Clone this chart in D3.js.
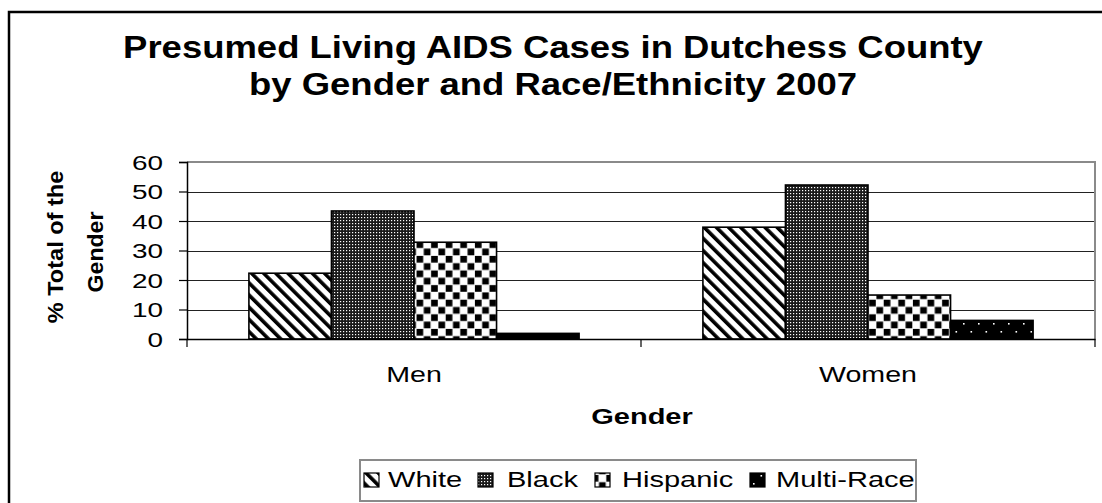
<!DOCTYPE html>
<html>
<head>
<meta charset="utf-8">
<script src="https://cdn.jsdelivr.net/npm/d3@7"></script>
<style>
  html, body { margin: 0; padding: 0; background: #fff; }
  svg { display: block; }
</style>
</head>
<body>
<svg id="chart" width="1102" height="503"></svg>
<script>
// ---- data ----
const categories = ["Men", "Women"];
const series = ["White", "Black", "Hispanic", "Multi-Race"];
const valuesWhite = [22.3, 37.9];
const valuesBlack = [43.4, 52.2];
const valuesHispanic = [32.8, 14.9];
const valuesMulti = [1.9, 6.3];
const yTicks = [0, 10, 20, 30, 40, 50, 60];
const titleLines = ["Presumed Living AIDS Cases in Dutchess County", "by Gender and Race/Ethnicity 2007"];
const yTitleLines = ["% Total of the", "Gender"];
const xTitle = "Gender";

const seriesValues = [valuesWhite, valuesBlack, valuesHispanic, valuesMulti];

// ---- layout ----
const FONT = "'Liberation Sans', Arial, Helvetica, sans-serif";
const plot = { left: 187, right: 1095, top: 162, bottom: 339 };
const svg = d3.select("#chart");

function txt(parent, s, x, y, o) {
  const g = parent.append("g")
    .attr("transform", `translate(${x},${y}) rotate(${o.rot || 0}) scale(${o.sx || 1},${o.sy || 1})`);
  g.append("text")
    .attr("text-anchor", o.anchor || "start")
    .attr("font-family", FONT)
    .attr("font-size", o.size)
    .attr("font-weight", o.weight || "normal")
    .attr("fill", "#000")
    .text(s);
  return g;
}

// ---- patterns ----
const defs = svg.append("defs");
// White: wide downward diagonal stripes (top-left to bottom-right)
const pW = defs.append("pattern").attr("id", "pat0").attr("patternUnits", "userSpaceOnUse")
  .attr("width", 8.6).attr("height", 8.6).attr("patternTransform", "rotate(-45)");
pW.append("rect").attr("width", 8.6).attr("height", 8.6).attr("fill", "#fff");
pW.append("rect").attr("x", 0).attr("width", 3.6).attr("height", 8.6).attr("fill", "#000");
// Black: dense dark grid with white dots
const pB = defs.append("pattern").attr("id", "pat1").attr("patternUnits", "userSpaceOnUse")
  .attr("width", 3).attr("height", 3);
pB.append("rect").attr("width", 3).attr("height", 3).attr("fill", "#1a1a1a");
pB.append("rect").attr("x", 1).attr("y", 1).attr("width", 1.2).attr("height", 1.2).attr("fill", "#fff");
// Hispanic: checkerboard
const c = 7.3;
const pH = defs.append("pattern").attr("id", "pat2").attr("patternUnits", "userSpaceOnUse")
  .attr("width", 2 * c).attr("height", 2 * c);
pH.append("rect").attr("width", 2 * c).attr("height", 2 * c).attr("fill", "#fff");
pH.append("rect").attr("x", 0.4).attr("y", 0.4).attr("width", c - 0.6).attr("height", c - 0.6).attr("fill", "#000");
pH.append("rect").attr("x", c + 0.4).attr("y", c + 0.4).attr("width", c - 0.6).attr("height", c - 0.6).attr("fill", "#000");
// Multi-Race: black with sparse white dots
const pM = defs.append("pattern").attr("id", "pat3").attr("patternUnits", "userSpaceOnUse")
  .attr("width", 15).attr("height", 16);
pM.append("rect").attr("width", 15).attr("height", 16).attr("fill", "#000");
pM.append("rect").attr("x", 3).attr("y", 3).attr("width", 1.6).attr("height", 1.6).attr("fill", "#fff");
pM.append("rect").attr("x", 10.5).attr("y", 11).attr("width", 1.6).attr("height", 1.6).attr("fill", "#fff");

// ---- outer frame ----
svg.append("path").attr("d", "M9,503 V12 H1102").attr("fill", "none").attr("stroke", "#000").attr("stroke-width", 2.5);

// ---- title ----
titleLines.forEach((t, i) => {
  txt(svg, t, 553, 58 + i * 37, { size: 32, weight: "bold", anchor: "middle", sx: 1.14 });
});

// ---- scales ----
const y = d3.scaleLinear().domain([0, 60]).range([plot.bottom, plot.top]);
const x0 = d3.scaleBand().domain(categories).range([plot.left, plot.right]).padding(0);
const bw = x0.bandwidth();
const barW = bw / (series.length + 1.5);
const x1 = d3.scaleBand().domain(series).range([0.75 * barW, 0.75 * barW + series.length * barW]).padding(0);

// ---- gridlines ----
const grid = svg.append("g");
grid.selectAll("line").data(yTicks.filter(d => d > 0 && d < 60)).join("line")
  .attr("x1", plot.left).attr("x2", plot.right)
  .attr("y1", d => Math.round(y(d)) + 0.5).attr("y2", d => Math.round(y(d)) + 0.5)
  .attr("stroke", "#222").attr("stroke-width", 1.2);

// plot area border (gray top/right)
svg.append("path")
  .attr("d", `M${plot.left},${y(60)} H${plot.right} V${plot.bottom}`)
  .attr("fill", "none").attr("stroke", "#8a8a8a").attr("stroke-width", 2);

// ---- bars ----
const bars = svg.append("g");
series.forEach((s, si) => {
  bars.selectAll(null).data(categories.map((cat, ci) => ({ cat, v: seriesValues[si][ci] }))).join("rect")
    .attr("x", d => x0(d.cat) + x1(s))
    .attr("y", d => y(d.v))
    .attr("width", x1.bandwidth())
    .attr("height", d => y(0) - y(d.v))
    .attr("fill", `url(#pat${si})`)
    .attr("stroke", "#000").attr("stroke-width", 1.6);
});

// ---- axes ----
const yAxis = svg.append("g").attr("transform", `translate(${plot.left},0)`)
  .call(d3.axisLeft(y).tickValues(yTicks).tickSize(8).tickFormat(""));
yAxis.select(".domain").attr("stroke", "#000").attr("stroke-width", 1.5);
yAxis.selectAll(".tick line").attr("stroke", "#000").attr("stroke-width", 1.2);
yTicks.forEach(t => {
  txt(svg, String(t), 163, y(t) + 7.5, { size: 21, anchor: "end", sx: 1.33 });
});

const xAxis = svg.append("g").attr("transform", `translate(0,${plot.bottom})`)
  .call(d3.axisBottom(x0).tickSize(0).tickFormat(""));
xAxis.select(".domain").attr("stroke", "#000").attr("stroke-width", 1.5);
// category boundary ticks
const bounds = [plot.left].concat(categories.map(cat => x0(cat) + bw));
svg.append("g").selectAll("line").data(bounds).join("line")
  .attr("x1", d => d).attr("x2", d => d)
  .attr("y1", plot.bottom).attr("y2", plot.bottom + 8)
  .attr("stroke", "#000").attr("stroke-width", 1.2);
categories.forEach(cat => {
  txt(svg, cat, x0(cat) + bw / 2, 382, { size: 22, anchor: "middle", sx: 1.3 });
});

// ---- axis titles ----
txt(svg, xTitle, 642, 424, { size: 22, weight: "bold", anchor: "middle", sx: 1.32 });
txt(svg, yTitleLines[0], 63, 247, { size: 22, weight: "bold", anchor: "middle", rot: -90, sx: 1.07 });
txt(svg, yTitleLines[1], 103, 252, { size: 22, weight: "bold", anchor: "middle", rot: -90, sx: 1.05 });

// ---- legend ----
const legend = svg.append("g");
legend.append("rect").attr("x", 360).attr("y", 460).attr("width", 556).attr("height", 41)
  .attr("fill", "#fff").attr("stroke", "#8a8a8a").attr("stroke-width", 2);
const swX = [364, 478, 595, 750];
const txX = [388, 507, 622, 776];
series.forEach((s, i) => {
  legend.append("rect").attr("x", swX[i]).attr("y", 473).attr("width", 15).attr("height", 14)
    .attr("fill", `url(#pat${i})`).attr("stroke", "#000").attr("stroke-width", 1.2);
  txt(legend, s, txX[i], 487, { size: 22, anchor: "start", sx: 1.32 });
});
</script>
</body>
</html>
